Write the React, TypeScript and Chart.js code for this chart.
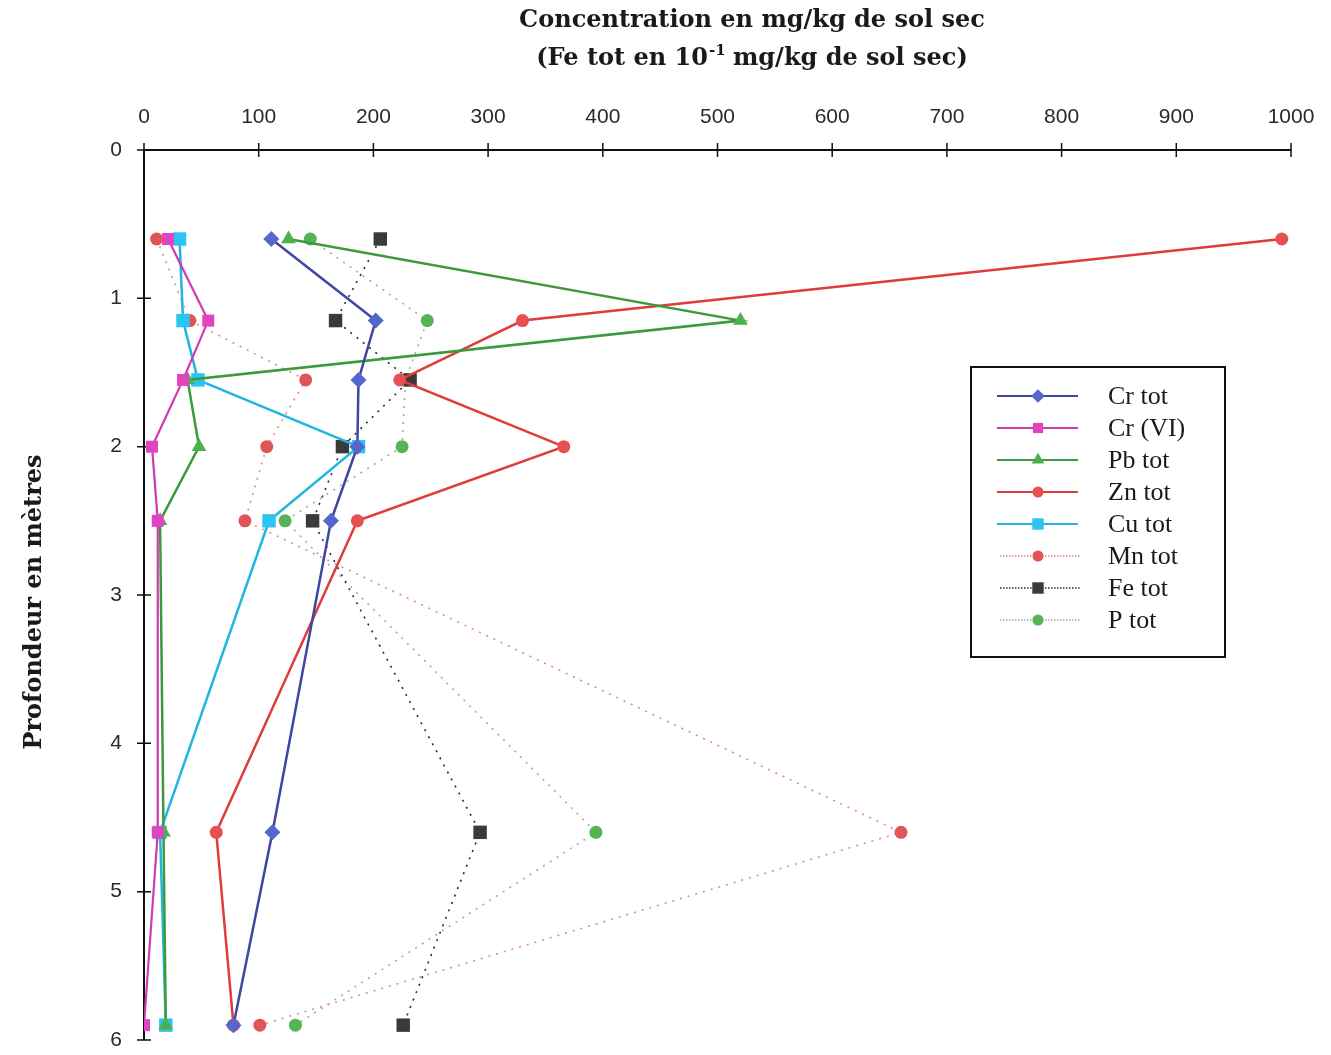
import React, { useEffect, useRef } from 'react';
import { Chart, registerables } from 'chart.js';

Chart.register(...registerables);

// ---- data ----
const depths = [0.6, 1.15, 1.55, 2.0, 2.5, 4.6, 5.9];
const crTot = [111, 202, 187, 186, 163, 112, 78];
const crVI = [21, 56, 34, 7, 12, 12, 0];
const pbTot = [126, 520, 38, 48, 14, 17, 19];
const znTot = [992, 330, 223, 366, 186, 63, 78];
const cuTot = [31, 34, 47, 187, 109, 14, 19];
const mnTot = [11, 40, 141, 107, 88, 660, 101];
const feTot = [206, 167, 232, 173, 147, 293, 226];
const pTot = [145, 247, 228, 225, 123, 394, 132];

const seriesNames = ['Cr tot', 'Cr (VI)', 'Pb tot', 'Zn tot', 'Cu tot', 'Mn tot', 'Fe tot', 'P tot'];
const seriesValues = [crTot, crVI, pbTot, znTot, cuTot, mnTot, feTot, pTot];

const xTitle1 = 'Concentration en mg/kg de sol sec';
const xTitle2a = '(Fe tot en 10';
const xTitle2sup = '-1';
const xTitle2b = ' mg/kg de sol sec)';
const yTitle = 'Profondeur en mètres';

// ---- styles ----
type Style = { line: string; fill: string; width: number; dash: number[]; shape: string; r: number };
const styles: Style[] = [
  { line: '#3e46a2', fill: '#5566cc', width: 2.5, dash: [], shape: 'rectRot', r: 8 },
  { line: '#d03aae', fill: '#e044c0', width: 2.2, dash: [], shape: 'rect', r: 8.5 },
  { line: '#3c9a3c', fill: '#4cb04c', width: 2.5, dash: [], shape: 'triangle', r: 8.5 },
  { line: '#e03c3c', fill: '#e65050', width: 2.5, dash: [], shape: 'circle', r: 6.5 },
  { line: '#1fb6e0', fill: '#2ec4f2', width: 2.5, dash: [], shape: 'rect', r: 9.5 },
  { line: '#e08a8a', fill: '#e05555', width: 1.6, dash: [2, 6], shape: 'circle', r: 6.5 },
  { line: '#2a2a2a', fill: '#3a3a3a', width: 1.6, dash: [2, 6], shape: 'rect', r: 9.5 },
  { line: '#a8a8a8', fill: '#55b455', width: 1.6, dash: [2, 6], shape: 'circle', r: 6.5 },
];

const titleFont = 'bold 24px "DejaVu Serif", serif';
const supFont = 'bold 15px "DejaVu Serif", serif';
const legendFont = '26px "Liberation Serif", "Times New Roman", serif';

function drawMarker(ctx: CanvasRenderingContext2D, shape: string, x: number, y: number, r: number) {
  ctx.beginPath();
  if (shape === 'circle') {
    ctx.arc(x, y, r, 0, Math.PI * 2);
  } else if (shape === 'rect') {
    const s = Math.SQRT1_2 * r;
    ctx.rect(x - s, y - s, 2 * s, 2 * s);
  } else if (shape === 'rectRot') {
    ctx.moveTo(x, y - r);
    ctx.lineTo(x + r, y);
    ctx.lineTo(x, y + r);
    ctx.lineTo(x - r, y);
    ctx.closePath();
  } else if (shape === 'triangle') {
    ctx.moveTo(x, y - r);
    ctx.lineTo(x + r * 0.866, y + r * 0.5);
    ctx.lineTo(x - r * 0.866, y + r * 0.5);
    ctx.closePath();
  }
  ctx.fill();
}

const decorPlugin = {
  id: 'decor',
  beforeDatasetsDraw(chart: any) {
    const ctx: CanvasRenderingContext2D = chart.ctx;
    const xs = chart.scales.x;
    const ys = chart.scales.y;
    const { left, top, right, bottom } = chart.chartArea;
    ctx.save();
    ctx.strokeStyle = '#111';
    ctx.lineWidth = 2;
    ctx.beginPath();
    ctx.moveTo(left, top);
    ctx.lineTo(right, top);
    ctx.moveTo(left, top);
    ctx.lineTo(left, bottom);
    ctx.stroke();
    ctx.lineWidth = 1.5;
    ctx.beginPath();
    xs.ticks.forEach((t: any) => {
      const px = xs.getPixelForValue(t.value);
      ctx.moveTo(px, top - 7);
      ctx.lineTo(px, top + 7);
    });
    ys.ticks.forEach((t: any) => {
      const py = ys.getPixelForValue(t.value);
      ctx.moveTo(left - 7, py);
      ctx.lineTo(left + 7, py);
    });
    ctx.stroke();
    ctx.restore();
  },
  afterDraw(chart: any) {
    const ctx: CanvasRenderingContext2D = chart.ctx;
    ctx.save();
    ctx.fillStyle = '#1a1a1a';
    // X title
    ctx.font = titleFont;
    ctx.textAlign = 'center';
    ctx.textBaseline = 'middle';
    const cx = 752;
    ctx.fillText(xTitle1, cx, 21);
    ctx.font = titleFont;
    const wa = ctx.measureText(xTitle2a).width;
    const wb = ctx.measureText(xTitle2b).width;
    ctx.font = supFont;
    const ws = ctx.measureText(xTitle2sup).width;
    const total = wa + ws + wb;
    const x0 = cx - total / 2;
    ctx.textAlign = 'left';
    ctx.font = titleFont;
    ctx.fillText(xTitle2a, x0, 59);
    ctx.font = supFont;
    ctx.fillText(xTitle2sup, x0 + wa + 1, 51);
    ctx.font = titleFont;
    ctx.fillText(xTitle2b, x0 + wa + ws, 59);
    // Y title
    ctx.save();
    ctx.translate(35, 602);
    ctx.rotate(-Math.PI / 2);
    ctx.textAlign = 'center';
    ctx.font = titleFont;
    ctx.fillText(yTitle, 0, 0);
    ctx.restore();

    // Legend
    const bx = 971, by = 367, bw = 254, bh = 290;
    ctx.fillStyle = '#ffffff';
    ctx.fillRect(bx, by, bw, bh);
    ctx.strokeStyle = '#111';
    ctx.lineWidth = 2;
    ctx.strokeRect(bx, by, bw, bh);
    seriesNames.forEach((name, i) => {
      const st = styles[i];
      const y = 396 + i * 32;
      ctx.strokeStyle = st.line;
      ctx.lineWidth = st.dash.length ? 1.6 : 2.2;
      ctx.setLineDash(st.dash.length ? [1.5, 1.5] : []);
      ctx.beginPath();
      ctx.moveTo(st.dash.length ? 1000 : 997, y);
      ctx.lineTo(st.dash.length ? 1080 : 1078, y);
      ctx.stroke();
      ctx.setLineDash([]);
      ctx.fillStyle = st.fill;
      drawMarker(ctx, st.shape, 1038, y, st.r * 0.85);
      ctx.fillStyle = '#1a1a1a';
      ctx.font = legendFont;
      ctx.textAlign = 'left';
      ctx.textBaseline = 'middle';
      ctx.fillText(name, 1108, y + 1);
    });
    ctx.restore();
  },
};

export default function App() {
  const canvasRef = useRef<HTMLCanvasElement | null>(null);

  useEffect(() => {
    document.body.style.margin = '0';
    document.body.style.background = '#ffffff';
    const canvas = canvasRef.current;
    if (!canvas) return;

    const datasets = seriesNames.map((name, i) => {
      const st = styles[i];
      return {
        label: name,
        data: seriesValues[i].map((v, k) => ({ x: v, y: depths[k] })),
        showLine: true,
        borderColor: st.line,
        borderWidth: st.width,
        borderDash: st.dash,
        backgroundColor: st.fill,
        pointStyle: st.shape,
        pointRadius: st.r,
        pointBorderWidth: 0,
        pointBorderColor: st.fill,
        pointBackgroundColor: st.fill,
        tension: 0,
        fill: false,
      };
    });

    const chart = new Chart(canvas, {
      type: 'scatter',
      data: { datasets } as any,
      options: {
        responsive: false,
        animation: false,
        layout: { padding: { top: 0, left: 0, right: 40, bottom: 15 } },
        plugins: {
          legend: { display: false },
          tooltip: { enabled: false },
          title: { display: false },
        },
        scales: {
          x: {
            type: 'linear',
            position: 'top',
            min: 0,
            max: 1000,
            ticks: {
              stepSize: 100,
              padding: 12,
              color: '#2a2a2a',
              font: { family: '"Liberation Sans", Arial, sans-serif', size: 21 },
              callback: (v: any) => String(v),
            },
            grid: { display: true, drawOnChartArea: false, drawTicks: true, tickLength: 8, color: 'rgba(0,0,0,0)' },
            border: { display: false },
            afterFit: (s: any) => {
              s.height = 150;
              s.paddingLeft = 0;
              s.paddingRight = 0;
            },
          },
          y: {
            type: 'linear',
            reverse: true,
            min: 0,
            max: 6,
            ticks: {
              stepSize: 1,
              padding: 14,
              color: '#2a2a2a',
              font: { family: '"Liberation Sans", Arial, sans-serif', size: 21 },
              callback: (v: any) => String(v),
            },
            grid: { display: true, drawOnChartArea: false, drawTicks: true, tickLength: 8, color: 'rgba(0,0,0,0)' },
            border: { display: false },
            afterFit: (s: any) => {
              s.width = 144;
              s.paddingTop = 0;
              s.paddingBottom = 0;
            },
          },
        },
      } as any,
      plugins: [decorPlugin],
    });
    return () => chart.destroy();
  }, []);

  return (
    <div style={{ width: 1331, height: 1055, background: '#fff' }}>
      <canvas ref={canvasRef} width={1331} height={1055} style={{ display: 'block' }} />
    </div>
  );
}
